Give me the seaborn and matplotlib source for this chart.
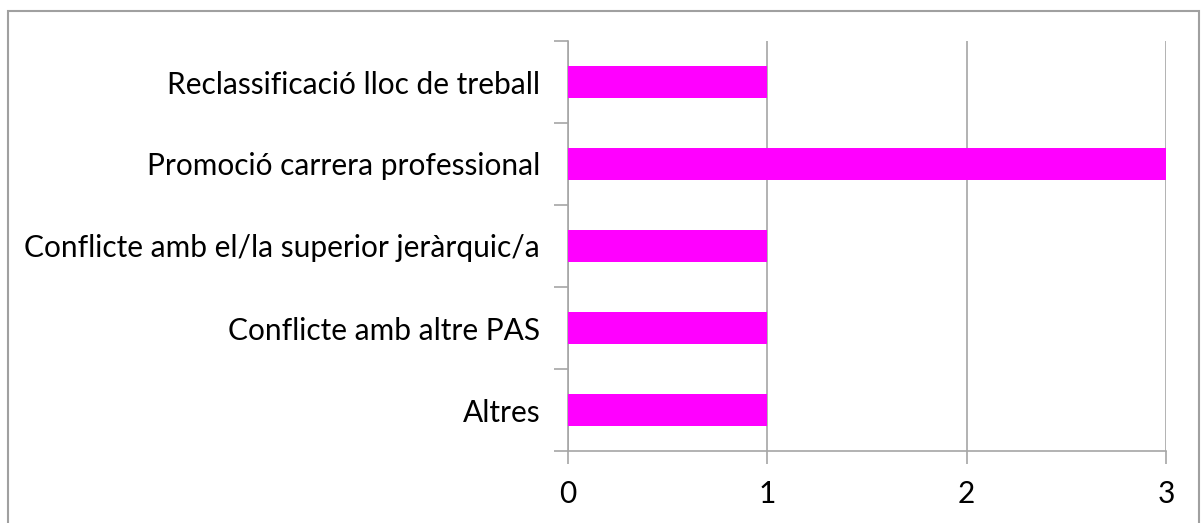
import matplotlib
matplotlib.use("Agg")
import matplotlib.pyplot as plt
import seaborn as sns
import pandas as pd
from matplotlib.patches import Rectangle

categories = ["Reclassificació lloc de treball", "Promoció carrera professional",
              "Conflicte amb el/la superior jeràrquic/a", "Conflicte amb altre PAS", "Altres"]
values = [1, 3, 1, 1, 1]
x_ticks = [0, 1, 2, 3]

sns.set_style("white")
plt.rcParams['font.family'] = ['Lato', 'DejaVu Sans']

data = pd.DataFrame({"motiu": categories, "n": values})

fig = plt.figure(figsize=(12.01, 5.23), dpi=100)
ax = fig.add_axes([568 / 1201, 1 - 451 / 523, (1166 - 568) / 1201, (451 - 41) / 523])

sns.barplot(data=data, x="n", y="motiu", color="#ff00ff", width=0.4,
            saturation=1, linewidth=0, ax=ax, zorder=3)

grey = "#a6a6a6"
ax.set_xlim(0, 3)
ax.set_ylim(len(categories) - 0.5, -0.5)
ax.set_xticks(x_ticks)
ax.set_xlabel("")
ax.set_ylabel("")
ax.xaxis.grid(True, color=grey, linewidth=1.2, zorder=0)
ax.yaxis.grid(False)
for s in ["top", "right"]:
    ax.spines[s].set_visible(False)
for s in ["left", "bottom"]:
    ax.spines[s].set_color(grey)
    ax.spines[s].set_linewidth(1.2)

# category boundary ticks on y axis
ax.set_yticks([i - 0.5 for i in range(len(categories) + 1)], minor=False)
ax.set_yticklabels([""] * (len(categories) + 1))
ax.set_yticks(range(len(categories)), minor=True)
ax.set_yticklabels(categories, minor=True)
ax.tick_params(axis="y", which="major", left=True, length=10, color=grey, width=1.2)
ax.tick_params(axis="y", which="minor", left=False, length=0, pad=20,
               labelsize=21.5, labelcolor="black")
ax.tick_params(axis="x", bottom=True, length=9, color=grey, width=1.2, pad=12,
               labelsize=21.5, labelcolor="black")

fig.patches.append(Rectangle((8 / 1201, -0.01), (1199 - 8) / 1201, 1 - 11 / 523 + 0.01,
                             transform=fig.transFigure, fill=False,
                             edgecolor="#a0a0a0", linewidth=1.5))

fig.savefig("out.png", dpi=100)
